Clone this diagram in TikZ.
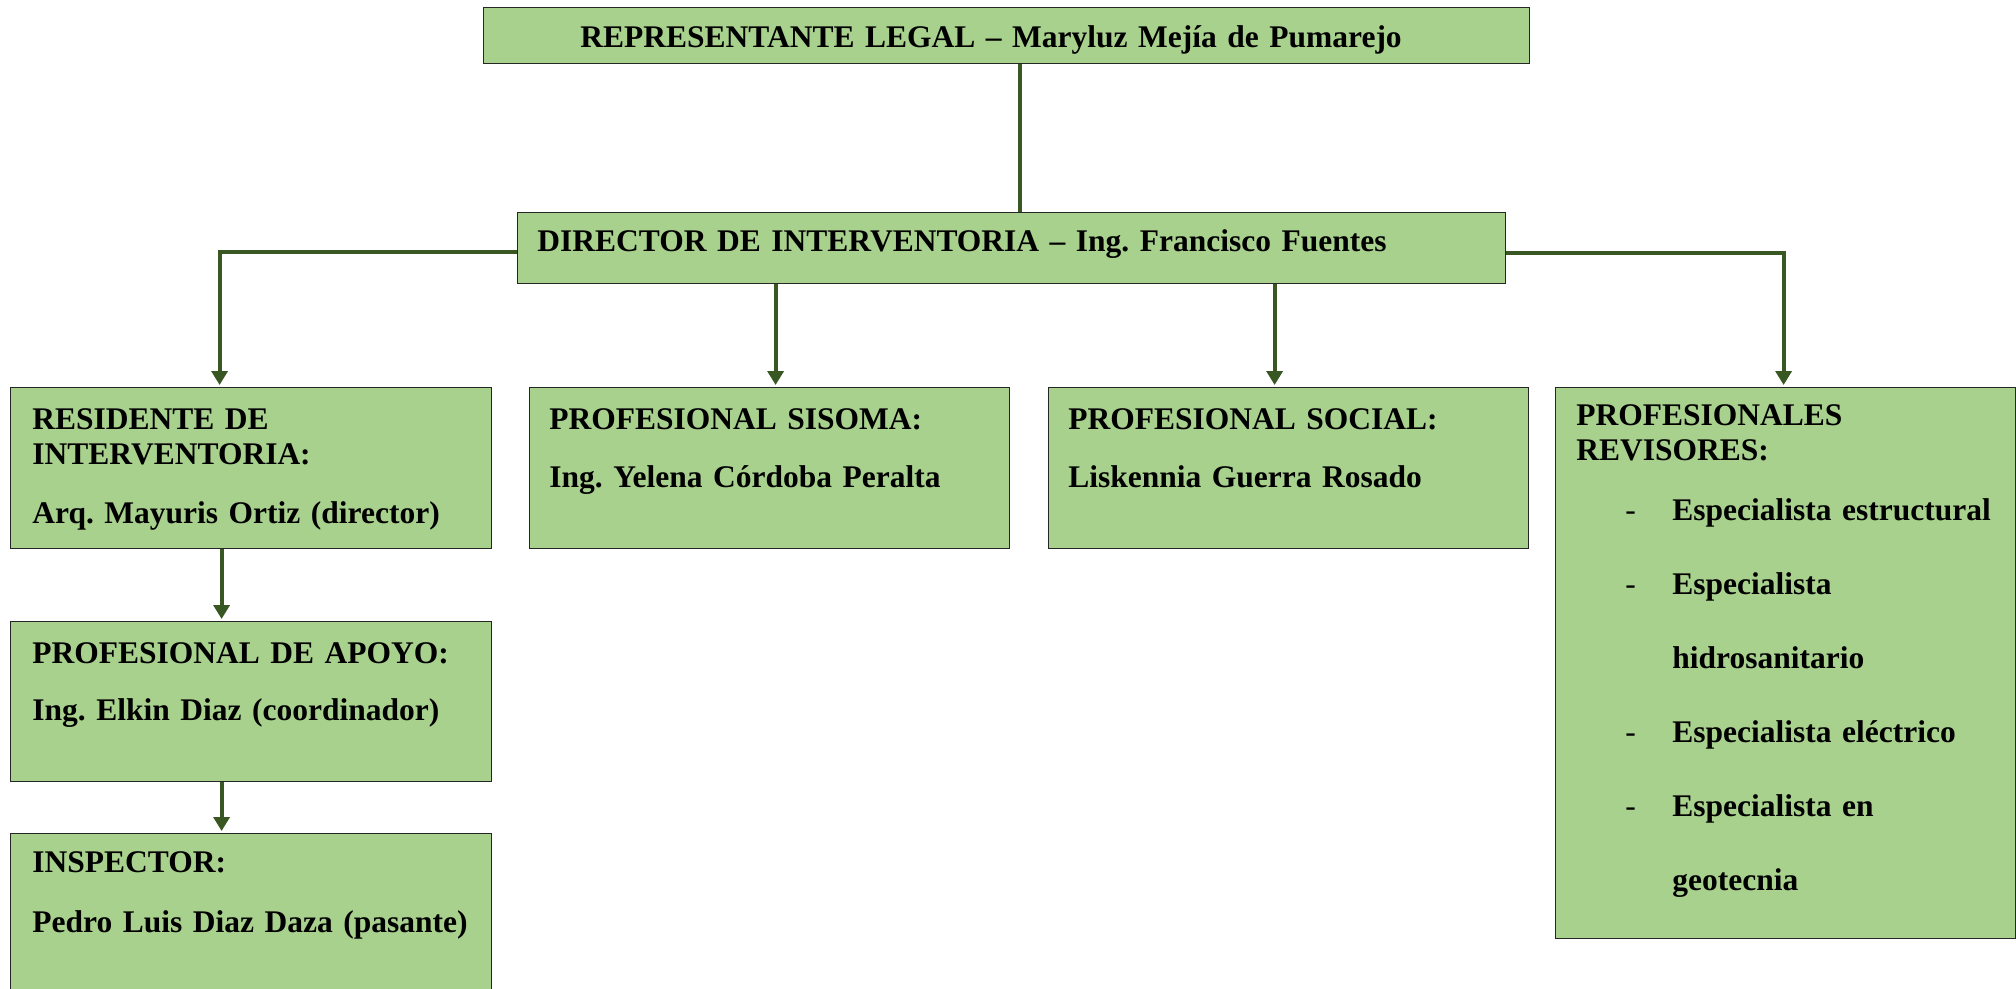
\documentclass[tikz,border=0pt]{standalone}
\usepackage{fontspec}
\setmainfont{Liberation Serif}
\usetikzlibrary{arrows.meta}

\definecolor{verdecaja}{HTML}{A9D18E}
\definecolor{verdelinea}{HTML}{385723}

\begin{document}
\begin{tikzpicture}[x=1pt,y=-1pt,
    caja/.style={draw=black!85,line width=0.6pt,fill=verdecaja,anchor=north west,inner sep=0pt},
    texto/.style={anchor=base west,inner sep=0pt,text width=236pt,align=left,
      font=\fontsize{15.75}{17.5}\selectfont\bfseries\frenchspacing},
    linea/.style={draw=verdelinea,line width=2pt},
    flecha/.style={linea,-{Triangle[length=7pt,width=8pt]},shorten >=1pt}]
  % \draw (0, 0) grid (1008, 494.5);
  \useasboundingbox (0,0) rectangle (1008,494.5);
  \clip (0,0) rectangle (1008,494.5);

  % cajas
  \node[caja,minimum width=523pt,minimum height=28pt]   (leg) at (241.5,3.5) {};
  \node[caja,minimum width=494pt,minimum height=35.5pt] (dir) at (258.5,106) {};
  \node[caja,minimum width=240.5pt,minimum height=80.5pt] (res) at (5,193.5) {};
  \node[caja,minimum width=240pt,minimum height=80.5pt]   (sis) at (264.5,193.5) {};
  \node[caja,minimum width=240pt,minimum height=80.5pt]   (soc) at (524,193.5) {};
  \node[caja,minimum width=230pt,minimum height=275.5pt]  (rev) at (777.5,193.5) {};
  \node[caja,minimum width=240.5pt,minimum height=80pt]   (apo) at (5,310.5) {};
  \node[caja,minimum width=240.5pt,minimum height=90pt]   (ins) at (5,416.5) {};

  % textos
  \node[texto,text width=480pt] (tleg) at (290,24) {REPRESENTANTE LEGAL -- Maryluz Mejía de Pumarejo};
  \node[texto,text width=480pt] (tdir) at (268.5,126) {DIRECTOR DE INTERVENTORIA -- Ing. Francisco Fuentes};
  \node[texto] (tres) at (16,214.5) {RESIDENTE DE\\INTERVENTORIA:\\[12pt]Arq. Mayuris Ortiz (director)};
  \node[texto] (tsis) at (274.5,214.5) {PROFESIONAL SISOMA:\\[11.5pt]Ing. Yelena Córdoba Peralta};
  \node[texto] (tsoc) at (534,214.5) {PROFESIONAL SOCIAL:\\[11.5pt]Liskennia Guerra Rosado};
  \node[texto] (tapo) at (16,331.5) {PROFESIONAL DE APOYO:\\[11pt]Ing. Elkin Diaz (coordinador)};
  \node[texto] (tins) at (16,436) {INSPECTOR:\\[12.5pt]Pedro Luis Diaz Daza (pasante)};
  \node[texto,text width=218pt] (trev) at (788,212.5) {PROFESIONALES\\REVISORES:\\[12.5pt]
    \hspace*{24.5pt}\makebox[23.5pt][l]{\mdseries -}Especialista estructural\\[19.5pt]
    \hspace*{24.5pt}\makebox[23.5pt][l]{\mdseries -}Especialista\\[19.5pt]
    \hspace*{48pt}hidrosanitario\\[19.5pt]
    \hspace*{24.5pt}\makebox[23.5pt][l]{\mdseries -}Especialista eléctrico\\[19.5pt]
    \hspace*{24.5pt}\makebox[23.5pt][l]{\mdseries -}Especialista en\\[19.5pt]
    \hspace*{48pt}geotecnia};

  % conectores
  \draw[linea] ([xshift=6.5pt]leg.south) -- ([xshift=6.5pt]leg.south |- dir.north);
  \draw[flecha] ([yshift=-2pt]dir.west) -| ([xshift=-15.75pt]res.north);
  \draw[flecha] ([yshift=-2.5pt]dir.east) -| ([xshift=-1pt]rev.north);
  \draw[flecha] ([xshift=3pt]sis.north |- dir.south) -- ([xshift=3pt]sis.north);
  \draw[flecha] ([xshift=-7pt]soc.north |- dir.south) -- ([xshift=-7pt]soc.north);
  \draw[flecha] ([xshift=-14.75pt]res.south) -- ([xshift=-14.75pt]apo.north);
  \draw[flecha] ([xshift=-14.75pt]apo.south) -- ([xshift=-14.75pt]ins.north);
\end{tikzpicture}
\end{document}
